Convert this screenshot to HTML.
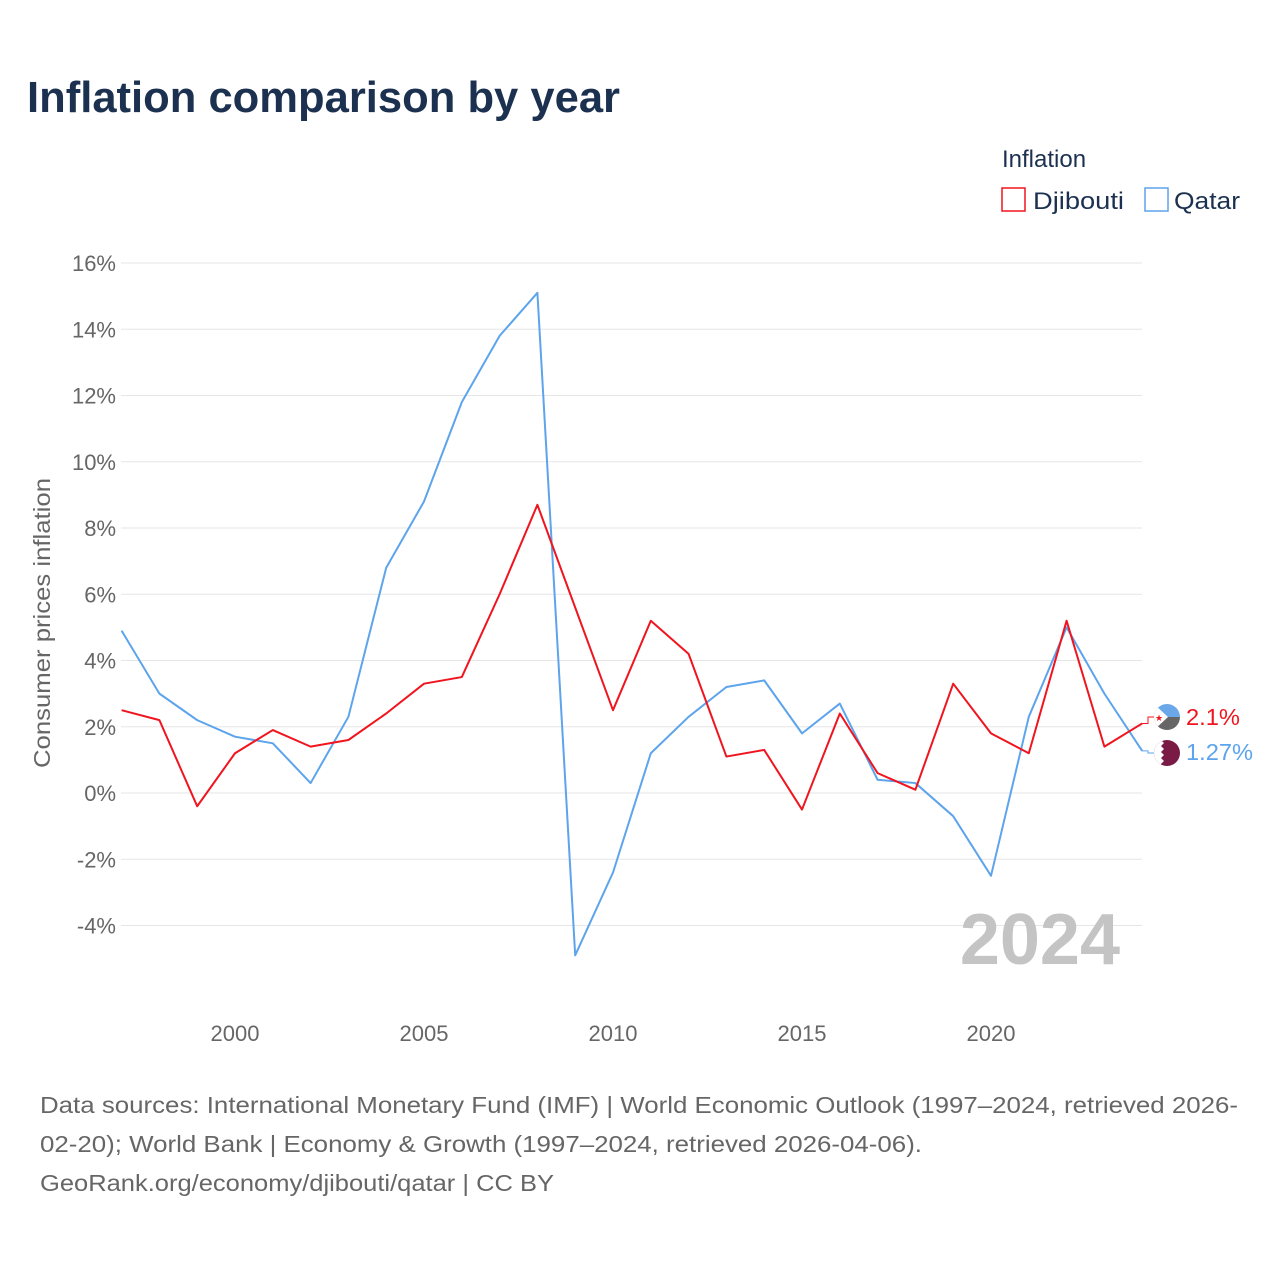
<!DOCTYPE html>
<html><head><meta charset="utf-8"><style>
body{margin:0;background:#fff;font-family:"Liberation Sans",sans-serif;}
svg text{font-family:"Liberation Sans",sans-serif;}
</style></head><body>
<svg width="1280" height="1280" viewBox="0 0 1280 1280">
<text x="27" y="112" font-size="44" font-weight="bold" fill="#1c3150" textLength="593" lengthAdjust="spacingAndGlyphs">Inflation comparison by year</text>
<text x="1002" y="167" font-size="24" fill="#1c3150">Inflation</text>
<g><rect x="1002" y="188" width="23" height="23" fill="none" stroke="#f0141e" stroke-width="1.5"/><text x="1033" y="209" font-size="24" fill="#1c3150" textLength="91" lengthAdjust="spacingAndGlyphs">Djibouti</text></g>
<g><rect x="1145" y="188" width="23" height="23" fill="none" stroke="#5da4ec" stroke-width="1.5"/><text x="1174" y="209" font-size="24" fill="#1c3150" textLength="66" lengthAdjust="spacingAndGlyphs">Qatar</text></g>
<g id="grid"></g>
<g id="yticks"></g>
<g id="xticks"></g>
<text transform="translate(50,623) rotate(-90)" text-anchor="middle" font-size="23" fill="#666" textLength="290" lengthAdjust="spacingAndGlyphs">Consumer prices inflation</text>
<text x="1120" y="964" text-anchor="end" font-size="72" font-weight="bold" fill="#c4c4c4">2024</text>
<g id="series"></g>
<g><clipPath id="c1"><circle cx="1167" cy="717" r="13"/></clipPath><g clip-path="url(#c1)"><rect x="1154" y="704" width="26" height="13" fill="#6aa8ea"/><rect x="1154" y="717" width="26" height="13" fill="#666"/><polygon points="1154,704 1168,717 1154,730" fill="#fff"/></g><text x="1155" y="721" font-size="9" fill="#f0141e">★</text></g>
<g><clipPath id="c2"><circle cx="1167" cy="753" r="13"/></clipPath><g clip-path="url(#c2)"><rect x="1154" y="740" width="26" height="26" fill="#7a1b45"/><polygon points="1154,740 1161,740 1164,743 1161,746 1164,749 1161,752 1164,755 1161,758 1164,761 1161,764 1161,766 1154,766" fill="#fff"/></g></g>
<text x="1186" y="725" font-size="23" fill="#f0141e" textLength="54" lengthAdjust="spacingAndGlyphs">2.1%</text>
<text x="1186" y="760" font-size="23" fill="#5da4ec" textLength="67" lengthAdjust="spacingAndGlyphs">1.27%</text>
<text font-size="23" fill="#666"><tspan x="40" y="1113" textLength="1198" lengthAdjust="spacingAndGlyphs">Data sources: International Monetary Fund (IMF) | World Economic Outlook (1997–2024, retrieved 2026-</tspan><tspan x="40" y="1152" textLength="882" lengthAdjust="spacingAndGlyphs">02-20); World Bank | Economy &amp; Growth (1997–2024, retrieved 2026-04-06).</tspan><tspan x="40" y="1191" textLength="514" lengthAdjust="spacingAndGlyphs">GeoRank.org/economy/djibouti/qatar | CC BY</tspan></text>
</svg>
<script>
const years=[1997,1998,1999,2000,2001,2002,2003,2004,2005,2006,2007,2008,2009,2010,2011,2012,2013,2014,2015,2016,2017,2018,2019,2020,2021,2022,2023,2024];
const djibouti=[2.5,2.2,-0.4,1.2,1.9,1.4,1.6,2.4,3.3,3.5,6.0,8.7,5.6,2.5,5.2,4.2,1.1,1.3,-0.5,2.4,0.6,0.1,3.3,1.8,1.2,5.2,1.4,2.1];
const qatar=[4.9,3.0,2.2,1.7,1.5,0.3,2.3,6.8,8.8,11.8,13.8,15.1,-4.9,-2.4,1.2,2.3,3.2,3.4,1.8,2.7,0.4,0.3,-0.7,-2.5,2.3,5.0,3.0,1.27];
const yTicks=[-4,-2,0,2,4,6,8,10,12,14,16];
const xTicks=[2000,2005,2010,2015,2020];
const NS="http://www.w3.org/2000/svg";
const xs=y=>121.6+(y-1997)*37.8;
const ys=v=>793-v*33.125;
function mk(tag,attrs,parent){const e=document.createElementNS(NS,tag);for(const k in attrs)e.setAttribute(k,attrs[k]);parent.appendChild(e);return e;}
const grid=document.getElementById('grid'),yt=document.getElementById('yticks'),xt=document.getElementById('xticks'),ser=document.getElementById('series');
yTicks.forEach(t=>{
  const l=mk('line',{x1:121,x2:1142,y1:ys(t),y2:ys(t),stroke:'#e6e6e6','stroke-width':1},grid);
  
  
  const tx=mk('text',{x:116,y:ys(t)+8,'text-anchor':'end','font-size':22,fill:'#666'},yt);
  tx.textContent=t+'%';
  
  
});
xTicks.forEach(t=>{
  const tx=mk('text',{x:xs(t),y:1041,'text-anchor':'middle','font-size':22,fill:'#666'},xt);
  tx.textContent=t;
  
  
});
function line(vals,color,name){
  const p=mk('polyline',{points:vals.map((v,i)=>xs(years[i])+','+ys(v)).join(' '),fill:'none',stroke:color,'stroke-width':2,'stroke-linejoin':'round'},ser);
  
  
}
line(qatar,'#5da4ec','qatar-line');
line(djibouti,'#f0141e','djibouti-line');
const lastX=xs(2024);
const c1=mk('polyline',{points:lastX+','+ys(djibouti[27])+' 1148,'+ys(djibouti[27])+' 1148,717 1154,717',fill:'none',stroke:'#f0141e','stroke-width':1},ser);


const c2=mk('polyline',{points:lastX+','+ys(qatar[27])+' 1148,'+ys(qatar[27])+' 1148,753 1154,753',fill:'none',stroke:'#5da4ec','stroke-width':1},ser);


</script>
</body></html>
